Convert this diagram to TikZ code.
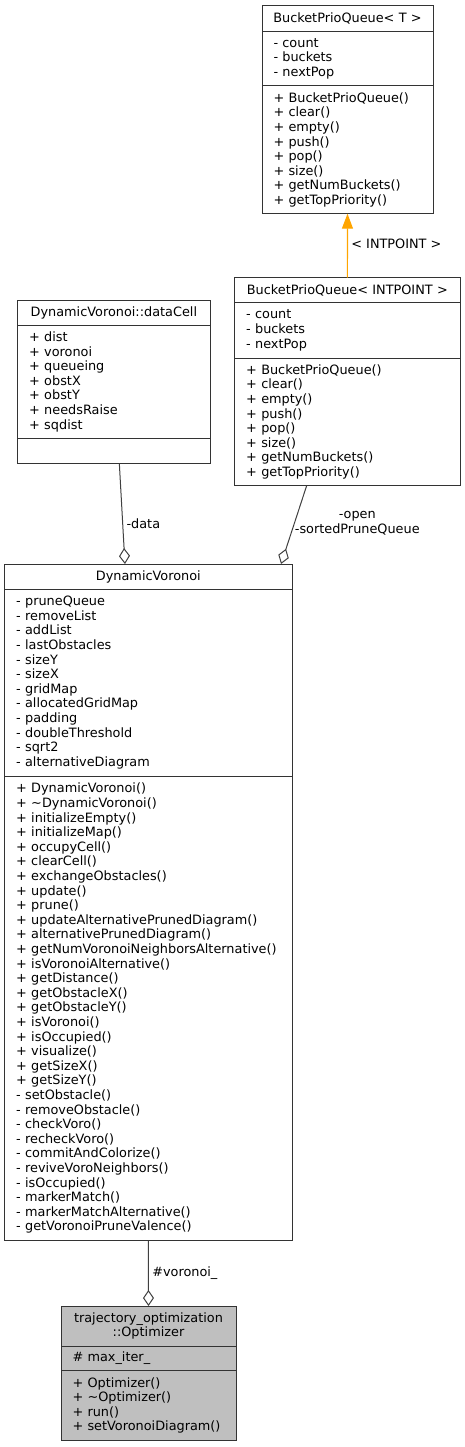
\documentclass[tikz,border=0pt]{standalone}
\usepackage{fontspec}
\setmainfont{DejaVu Sans}
\usepackage{tikz}
\usetikzlibrary{positioning,arrows.meta}
\definecolor{inheritorange}{HTML}{FFA500}
\tikzset{classpart/.style={rectangle, draw=black!80, line width=1pt, outer sep=0pt, inner xsep=11.5pt, inner ysep=0pt, align=left, font=\fontsize{12.85}{14.6}\selectfont},
classtitle/.style={classpart, inner xsep=2pt, align=center},
agg/.style={draw=black!75, line width=1pt, -{Diamond[open, length=16pt, width=11pt]}},
inherit/.style={draw=inheritorange, line width=1.2pt, -{Triangle[length=15pt, width=11pt, fill=inheritorange]}},
edgelabel/.style={font=\fontsize{12.85}{14.6}\selectfont},}

\begin{document}
\begin{tikzpicture}[x=1pt, y=1pt]
\useasboundingbox (0,0) rectangle (465,-1447);
\node [classtitle, text width=167pt, minimum height=25.6pt, anchor=north] (bpqT) at (347.5,-5.7) {BucketPrioQueue< T >};
\node [classpart, text width=148pt, minimum height=54.7pt] (bpqTattr) [below=0pt of bpqT] {- count\\- buckets\\- nextPop};
\node [classpart, text width=148pt, minimum height=127.7pt] (bpqTops) [below=0pt of bpqTattr] {+ BucketPrioQueue()\\+ clear()\\+ empty()\\+ push()\\+ pop()\\+ size()\\+ getNumBuckets()\\+ getTopPriority()};

\node [classtitle, text width=221.3pt, minimum height=25pt, anchor=north] (bpqI) at (347.35,-277.7) {BucketPrioQueue< INTPOINT >};
\node [classpart, text width=202.3pt, minimum height=55.3pt] (bpqIattr) [below=0pt of bpqI] {- count\\- buckets\\- nextPop};
\node [classpart, text width=202.3pt, minimum height=127.7pt] (bpqIops) [below=0pt of bpqIattr] {+ BucketPrioQueue()\\+ clear()\\+ empty()\\+ push()\\+ pop()\\+ size()\\+ getNumBuckets()\\+ getTopPriority()};

\node [classtitle, text width=188.3pt, minimum height=25pt, anchor=north] (cell) at (113.85,-300) {DynamicVoronoi::dataCell};
\node [classpart, text width=169.3pt, minimum height=113.7pt] (cellattr) [below=0pt of cell] {+ dist\\+ voronoi\\+ queueing\\+ obstX\\+ obstY\\+ needsRaise\\+ sqdist};
\node [classpart, text width=169.3pt, minimum height=25pt] (cellops) [below=0pt of cellattr] {};

\node [classtitle, text width=283.3pt, minimum height=25.3pt, anchor=north] (dv) at (148.35,-564) {DynamicVoronoi};
\node [classpart, text width=264.3pt, minimum height=186.7pt] (dvattr) [below=0pt of dv] {- pruneQueue\\- removeList\\- addList\\- lastObstacles\\- sizeY\\- sizeX\\- gridMap\\- allocatedGridMap\\- padding\\- doubleThreshold\\- sqrt2\\- alternativeDiagram};
\node [classpart, text width=264.3pt, minimum height=464.7pt] (dvops) [below=0pt of dvattr] {+ DynamicVoronoi()\\+ \textasciitilde DynamicVoronoi()\\+ initializeEmpty()\\+ initializeMap()\\+ occupyCell()\\+ clearCell()\\+ exchangeObstacles()\\+ update()\\+ prune()\\+ updateAlternativePrunedDiagram()\\+ alternativePrunedDiagram()\\+ getNumVoronoiNeighborsAlternative()\\+ isVoronoiAlternative()\\+ getDistance()\\+ getObstacleX()\\+ getObstacleY()\\+ isVoronoi()\\+ isOccupied()\\+ visualize()\\+ getSizeX()\\+ getSizeY()\\- setObstacle()\\- removeObstacle()\\- checkVoro()\\- recheckVoro()\\- commitAndColorize()\\- reviveVoroNeighbors()\\- isOccupied()\\- markerMatch()\\- markerMatchAlternative()\\- getVoronoiPruneValence()};

\node [classtitle, fill=black!25, text width=171pt, minimum height=40pt, anchor=north] (opt) at (148.5,-1306) {trajectory\_optimization\\::Optimizer};
\node [classpart, fill=black!25, text width=152pt, minimum height=24.7pt] (optattr) [below=0pt of opt] {\# max\_iter\_};
\node [classpart, fill=black!25, text width=152pt, minimum height=69.3pt] (optops) [below=0pt of optattr] {+ Optimizer()\\+ \textasciitilde Optimizer()\\+ run()\\+ setVoronoiDiagram()};

\draw [inherit] (bpqI.north) -- node[pos=0.53, right, edgelabel] {< INTPOINT >} (bpqTops.south);
\draw [agg] ([xshift=5.5pt]cellops.south) -- node[pos=0.6, right, edgelabel] {-data} ([xshift=-23.4pt]dv.north);
\draw [agg] ([xshift=-40.7pt]bpqIops.south) -- node[pos=0.48, anchor=west, inner sep=0pt, align=center, edgelabel] {-open\\-sortedPruneQueue} ([xshift=132.7pt]dv.north);
\draw [agg] (dvops.south) -- node[pos=0.5, right, edgelabel] {\#voronoi\_} (opt.north);
\end{tikzpicture}
\end{document}
